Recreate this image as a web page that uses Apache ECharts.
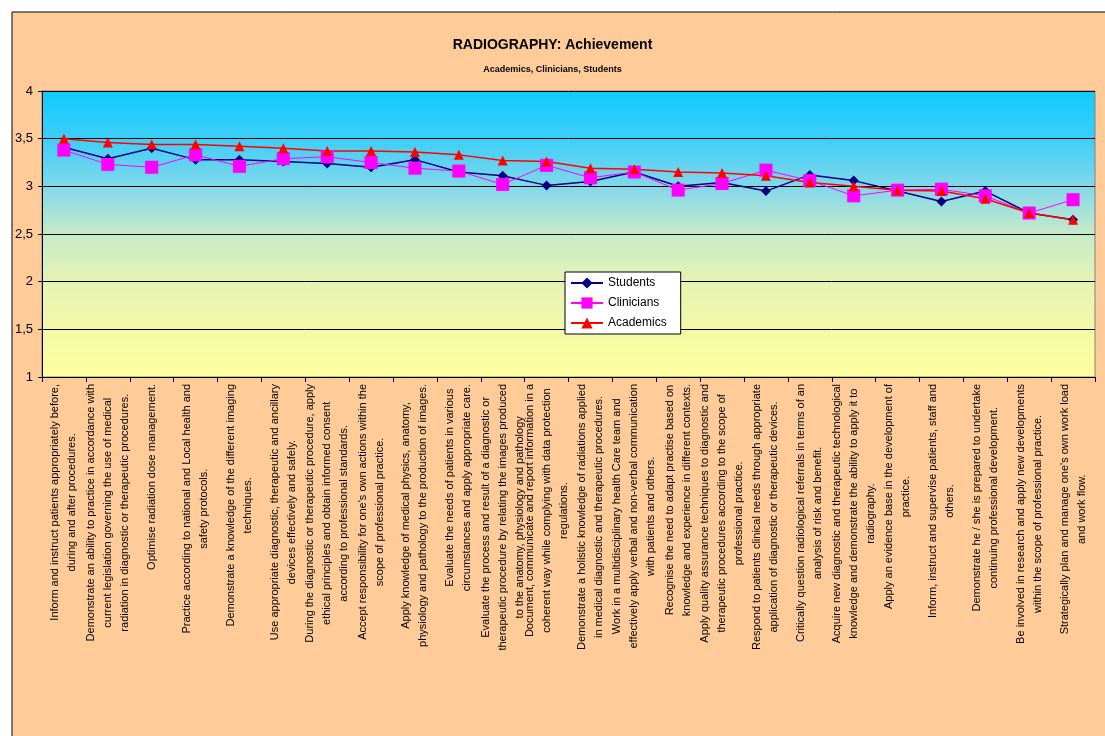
<!DOCTYPE html>
<html>
<head>
<meta charset="utf-8">
<script src="https://cdn.jsdelivr.net/npm/echarts@6/dist/echarts.min.js"></script>
<style>
html,body{margin:0;padding:0;background:#ffffff;}
#main{width:1105px;height:736px;}
</style>
</head>
<body>
<div id="main"></div>
<script>
const categories = [
  "Inform and instruct patients appropriately before,\nduring and after procedures.",
  "Demonstrate an ability to practice in accordance with\ncurrent legislation governing the use of medical\nradiation in diagnostic or therapeutic procedures.",
  "Optimise radiation dose management.",
  "Practice according to national and Local health and\nsafety protocols.",
  "Demonstrate a knowledge of the different imaging\ntechniques.",
  "Use appropriate diagnostic, therapeutic and ancillary\ndevices effectively and safely.",
  "During the diagnostic or therapeutic procedure, apply\nethical principles and obtain informed consent\naccording to professional standards.",
  "Accept responsibility for one's own actions within the\nscope of professional practice.",
  "Apply knowledge of medical physics, anatomy,\nphysiology and pathology to the production of images.",
  "Evaluate the needs of patients in various\ncircumstances and apply appropriate care.",
  "Evaluate the process and result of a diagnostic or\ntherapeutic procedure by relating the images produced\nto the anatomy, physiology and pathology",
  "Document, communicate and report information in a\ncoherent way while complying with data protection\nregulations.",
  "Demonstrate a holistic knowledge of radiations applied\nin medical diagnostic and therapeutic procedures.",
  "Work in a multidisciplinary health Care team and\neffectively apply verbal and non-verbal communication\nwith patients and others.",
  "Recognise the need to adapt practise based on\nknowledge and experience in different contexts.",
  "Apply quality assurance techniques to diagnostic and\ntherapeutic procedures according to the scope of\nprofessional practice.",
  "Respond to patients clinical needs through appropriate\napplication of diagnostic or therapeutic devices.",
  "Critically question radiological referrals in terms of an\nanalysis of risk and benefit.",
  "Acquire new diagnostic and therapeutic technological\nknowledge and demonstrate the ability to apply it to\nradiography.",
  "Apply an evidence base in the development of\npractice.",
  "Inform, instruct and supervise patients, staff and\nothers.",
  "Demonstrate he / she is prepared to undertake\ncontinuing professional development.",
  "Be involved in research and apply new developments\nwithin the scope of professional practice.",
  "Strategically plan and manage one's own work load\nand work flow."
];
const students   = [3.41, 3.29, 3.40, 3.28, 3.28, 3.26, 3.24, 3.20, 3.28, 3.15, 3.11, 3.01, 3.05, 3.15, 3.00, 3.04, 2.95, 3.12, 3.06, 2.95, 2.84, 2.95, 2.72, 2.65];
const clinicians = [3.38, 3.23, 3.20, 3.33, 3.21, 3.29, 3.31, 3.25, 3.19, 3.16, 3.02, 3.22, 3.09, 3.15, 2.96, 3.03, 3.17, 3.06, 2.90, 2.96, 2.97, 2.90, 2.72, 2.86];
const academics  = [3.50, 3.46, 3.44, 3.44, 3.42, 3.40, 3.37, 3.37, 3.36, 3.33, 3.27, 3.26, 3.19, 3.18, 3.15, 3.14, 3.11, 3.04, 3.00, 2.96, 2.95, 2.87, 2.72, 2.65];
const seriesNames = ["Students", "Clinicians", "Academics"];
const titleText = "RADIOGRAPHY: Achievement";
const subtitleText = "Academics, Clinicians, Students";

const FONT = "'Liberation Sans', Arial, sans-serif";
const chart = echarts.init(document.getElementById('main'));
chart.setOption({
  animation: false,
  backgroundColor: '#ffffff',
  graphic: [{
    type: 'rect', z: -100, silent: true,
    shape: {x: 12, y: 12, width: 1200, height: 800},
    style: {fill: '#FFCC99', stroke: '#000000', lineWidth: 1}
  }],
  title: [
    {text: titleText, left: 'center', top: 33,
     textStyle: {fontFamily: FONT, fontSize: 14, fontWeight: 'bold', color: '#000'}},
    {text: subtitleText, left: 'center', top: 60,
     textStyle: {fontFamily: FONT, fontSize: 9, fontWeight: 'bold', color: '#000'}}
  ],
  legend: {
    orient: 'vertical', left: 565, top: 272,
    backgroundColor: '#ffffff', borderColor: '#000000', borderWidth: 1,
    padding: [5, 14, 5, 5], itemGap: 8, itemWidth: 32, itemHeight: 14,
    textStyle: {fontFamily: FONT, fontSize: 12, color: '#000'},
    data: seriesNames
  },
  grid: {
    left: 42, right: 10, top: 91, bottom: 359, show: true,
    borderColor: '#808080', borderWidth: 1,
    backgroundColor: new echarts.graphic.LinearGradient(0, 0, 0, 1, [
      {offset: 0, color: '#10CBFF'},
      {offset: 0.17, color: '#3DCEF7'},
      {offset: 0.34, color: '#84D8E9'},
      {offset: 0.5, color: '#C6EBC8'},
      {offset: 0.67, color: '#E6F3B3'},
      {offset: 1, color: '#FFFF9C'}
    ])
  },
  xAxis: {
    type: 'category', data: categories, boundaryGap: true,
    axisLine: {lineStyle: {color: '#000', width: 1}},
    axisTick: {show: true, length: 5, lineStyle: {color: '#000'}},
    splitLine: {show: false},
    axisLabel: {
      interval: 0, rotate: 90, margin: 7, hideOverlap: false,
      formatter: v => v.split('\n').map(l => '{c|' + l + '}').join('\n'),
      rich: {c: {align: 'center', fontFamily: FONT, fontSize: 11, lineHeight: 17, color: '#000'}}
    }
  },
  yAxis: {
    type: 'value', min: 1, max: 4, interval: 0.5,
    axisLine: {show: true, lineStyle: {color: '#000'}},
    axisTick: {show: true, length: 4, lineStyle: {color: '#000'}},
    splitLine: {show: true, lineStyle: {color: '#000', width: 1}},
    axisLabel: {
      margin: 9, fontFamily: FONT, fontSize: 13, color: '#000',
      formatter: v => String(v).replace('.', ',')
    }
  },
  series: [
    {name: seriesNames[0], type: 'line', data: students, symbol: 'diamond', symbolSize: 10,
     lineStyle: {color: '#000080', width: 1.5}, itemStyle: {color: '#000080'}},
    {name: seriesNames[1], type: 'line', data: clinicians, symbol: 'rect', symbolSize: 13,
     lineStyle: {color: '#FF00FF', width: 1}, itemStyle: {color: '#FF00FF'}},
    {name: seriesNames[2], type: 'line', data: academics, symbol: 'triangle', symbolSize: 10,
     lineStyle: {color: '#FF0000', width: 1.5}, itemStyle: {color: '#FF0000'}}
  ]
});
</script>
</body>
</html>
